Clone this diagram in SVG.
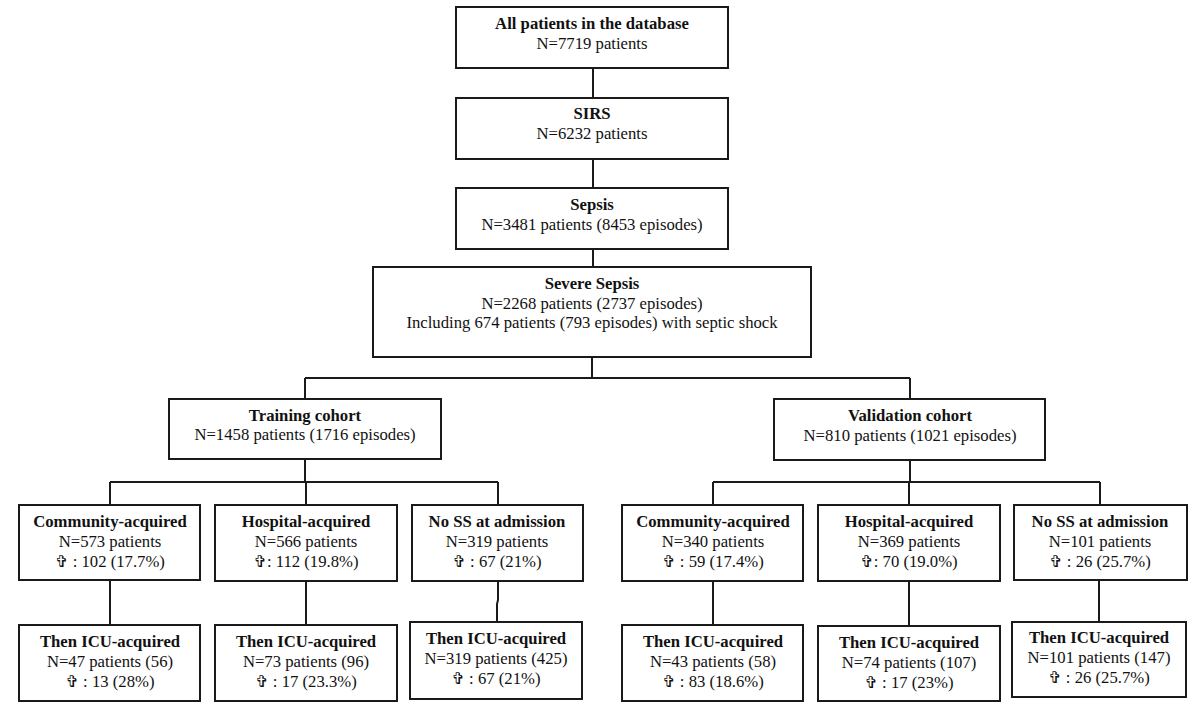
<svg xmlns="http://www.w3.org/2000/svg" width="1200" height="711" viewBox="0 0 1200 711">
<style>
rect{fill:#fff;stroke:#1a1a1a;stroke-width:2}
.c{fill:none;stroke:#1a1a1a;stroke-width:2}
text{font-family:"Liberation Serif","Times New Roman",serif;font-size:16.7px;fill:#111;text-anchor:middle}
.b{font-weight:bold}
.x{font-family:"DejaVu Sans",sans-serif;font-size:16px;font-weight:bold}
</style>
<rect x="0" y="0" width="1200" height="711" style="stroke:none"/>
<g id="connectors">
<path class="c" d="M593 68V98M593 159V188M593 249V267M592 357V378M305 378H910M305 378V399M910 378V399"/>
<path class="c" d="M305 459V482M110 482H498M110 482V505M306 482V505M498 482V505"/>
<path class="c" d="M910 460V482M713 482H1100M713 482V505M909 482V505M1100 482V505"/>
<path class="c" d="M110 580V625M306 581V625M498 581V600L497 604V622M713 581V625M909 581V626M1099 580V622"/>
</g>
<g id="all"><rect x="456" y="7" width="272" height="61"/><text x="592" y="29" class="b">All patients in the database</text><text x="592" y="49">N=7719 patients</text></g>
<g id="sirs"><rect x="456" y="98" width="272" height="61"/><text x="592" y="119" class="b">SIRS</text><text x="592" y="139">N=6232 patients</text></g>
<g id="sepsis"><rect x="456" y="188" width="272" height="61"/><text x="592" y="210" class="b">Sepsis</text><text x="592" y="230">N=3481 patients (8453 episodes)</text></g>
<g id="severe"><rect x="373" y="267" width="438" height="90"/><text x="592" y="289" class="b">Severe Sepsis</text><text x="592" y="309">N=2268 patients (2737 episodes)</text><text x="592" y="328">Including 674 patients (793 episodes) with septic shock</text></g>
<g id="training"><rect x="169" y="399" width="272" height="60"/><text x="305" y="421" class="b">Training cohort</text><text x="305" y="440">N=1458 patients (1716 episodes)</text></g>
<g id="validation"><rect x="774" y="399" width="271" height="61"/><text x="910" y="421" class="b">Validation cohort</text><text x="910" y="441">N=810 patients (1021 episodes)</text></g>

<g id="t-community"><rect x="19" y="505" width="181" height="75"/><text x="110" y="527" class="b">Community-acquired</text><text x="110" y="547">N=573 patients</text><text x="110" y="567"><tspan class="x">✞</tspan> : 102 (17.7%)</text></g>
<g id="t-hospital"><rect x="215" y="505" width="182" height="76"/><text x="306" y="527" class="b">Hospital-acquired</text><text x="306" y="547">N=566 patients</text><text x="306" y="567"><tspan class="x">✞</tspan>: 112 (19.8%)</text></g>
<g id="t-noss"><rect x="412" y="505" width="171" height="76"/><text x="497" y="527" class="b">No SS at admission</text><text x="497" y="547">N=319 patients</text><text x="497" y="567"><tspan class="x">✞</tspan> : 67 (21%)</text></g>
<g id="v-community"><rect x="622" y="505" width="181" height="76"/><text x="713" y="527" class="b">Community-acquired</text><text x="713" y="547">N=340 patients</text><text x="713" y="567"><tspan class="x">✞</tspan> : 59 (17.4%)</text></g>
<g id="v-hospital"><rect x="818" y="505" width="182" height="76"/><text x="909" y="527" class="b">Hospital-acquired</text><text x="909" y="547">N=369 patients</text><text x="909" y="567"><tspan class="x">✞</tspan>: 70 (19.0%)</text></g>
<g id="v-noss"><rect x="1014" y="505" width="173" height="75"/><text x="1100" y="527" class="b">No SS at admission</text><text x="1100" y="547">N=101 patients</text><text x="1100" y="567"><tspan class="x">✞</tspan> : 26 (25.7%)</text></g>

<g id="t-community-icu"><rect x="19" y="625" width="181" height="76"/><text x="110" y="647" class="b">Then ICU-acquired</text><text x="110" y="667">N=47 patients (56)</text><text x="110" y="687"><tspan class="x">✞</tspan> : 13 (28%)</text></g>
<g id="t-hospital-icu"><rect x="215" y="625" width="182" height="76"/><text x="306" y="647" class="b">Then ICU-acquired</text><text x="306" y="667">N=73 patients (96)</text><text x="306" y="687"><tspan class="x">✞</tspan> : 17 (23.3%)</text></g>
<g id="t-noss-icu"><rect x="410" y="622" width="172" height="77"/><text x="496" y="644" class="b">Then ICU-acquired</text><text x="496" y="664">N=319 patients (425)</text><text x="496" y="684"><tspan class="x">✞</tspan> : 67 (21%)</text></g>
<g id="v-community-icu"><rect x="622" y="625" width="181" height="76"/><text x="713" y="647" class="b">Then ICU-acquired</text><text x="713" y="667">N=43 patients (58)</text><text x="713" y="687"><tspan class="x">✞</tspan> : 83 (18.6%)</text></g>
<g id="v-hospital-icu"><rect x="818" y="626" width="182" height="75"/><text x="909" y="648" class="b">Then ICU-acquired</text><text x="909" y="668">N=74 patients (107)</text><text x="909" y="688"><tspan class="x">✞</tspan> : 17 (23%)</text></g>
<g id="v-noss-icu"><rect x="1012" y="622" width="174" height="75"/><text x="1099" y="643" class="b">Then ICU-acquired</text><text x="1099" y="663">N=101 patients (147)</text><text x="1099" y="683"><tspan class="x">✞</tspan> : 26 (25.7%)</text></g>
</svg>
